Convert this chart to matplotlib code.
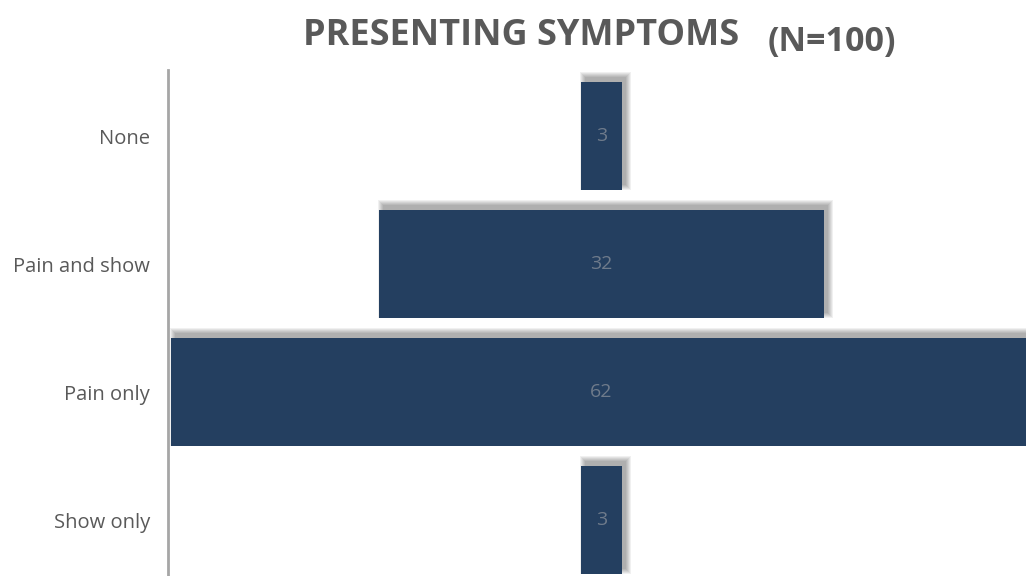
import matplotlib.pyplot as plt
from matplotlib.patches import Rectangle

# symptom counts, top to bottom
categories = ['None', 'Pain and show', 'Pain only', 'Show only']
counts = [3, 32, 62, 3]

BAR_COLOR = '#243f60'
TEXT_GRAY = '#595959'
BAR_H = 0.84

plt.rcParams['font.family'] = ['Open Sans', 'DejaVu Sans']

fig = plt.figure(figsize=(10.26, 5.76), dpi=100)
ax = fig.add_axes([168 / 1026, 0, 1 - 168 / 1026, 1 - 70 / 576])
ax.set_xlim(-31.19, 30.54)
ax.set_ylim(3.4375, -0.516)

# pixel sizes in data units (for the soft shadow)
px_x = (30.54 + 31.19) / (1026 - 168)
px_y = (3.4375 + 0.516) / (576 - 70)

ypos = list(range(len(categories)))
lefts = [-c / 2 for c in counts]

# soft drop shadow: stacked translucent rectangles, shifted up and to the right
dx, dy = 4, 5
for y, l, c in zip(ypos, lefts, counts):
    for k in range(0, 6):
        ax.add_patch(Rectangle((l - k * px_x + dx * px_x, y - BAR_H / 2 - k * px_y - dy * px_y),
                               c + 2 * k * px_x, BAR_H + 2 * k * px_y,
                               facecolor='black', edgecolor='none', alpha=0.06, zorder=2))

# centred bars (funnel style)
ax.barh(ypos, counts, left=lefts, height=BAR_H, color=BAR_COLOR, zorder=3)

for y, c in zip(ypos, counts):
    ax.text(0, y, str(c), ha='center', va='center', fontsize=14,
            color='#6f7b8b', zorder=4)

ax.set_yticks(ypos)
ax.set_yticklabels(categories, fontsize=14.5, color=TEXT_GRAY)
ax.tick_params(axis='y', length=0, pad=13)
ax.set_xticks([])

for side in ['top', 'right', 'bottom']:
    ax.spines[side].set_visible(False)
ax.spines['left'].set_color('#a6a6a6')
ax.spines['left'].set_linewidth(2)
ax.spines['left'].set_zorder(5)

fig.text(303 / 1026, 1 - 36 / 576, 'PRESENTING SYMPTOMS', fontsize=26, fontweight='bold',
         color=TEXT_GRAY, ha='left', va='center')
fig.text(768 / 1026, 1 - 42 / 576, '(N=100)', fontsize=24.5, fontweight='bold',
         color=TEXT_GRAY, ha='left', va='center')

fig.savefig('out.png', dpi=100, facecolor='white')
